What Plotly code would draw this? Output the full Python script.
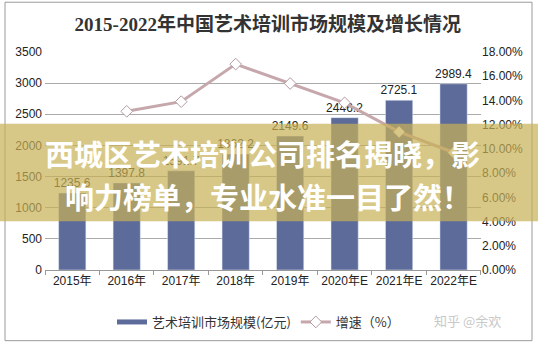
import plotly.graph_objects as go

categories = ["2015年", "2016年", "2017年", "2018年", "2019年", "2020年E", "2021年E", "2022年E"]
market_size = [1235.6, 1397.8, 1591.7, 1862.2, 2149.6, 2446.2, 2725.1, 2989.4]
growth_cats = ["2016年", "2017年", "2018年", "2019年", "2020年E", "2021年E", "2022年E"]
growth_rate = [0.131, 0.139, 0.170, 0.154, 0.138, 0.114, 0.097]
y_left_ticks = [0, 500, 1000, 1500, 2000, 2500, 3000, 3500]
y_right_ticks = [0, 0.02, 0.04, 0.06, 0.08, 0.10, 0.12, 0.14, 0.16, 0.18]

W, H = 538, 348
L, R, T, B = 45, 57, 52, 77
pw, ph = W - L - R, H - T - B

def px(x):
    return (x - L) / pw

def py(y):
    return (H - B - y) / ph

BAR = "#5d6b9a"
LINE = "#c6a7ac"
FONT = "Liberation Sans, Arial, Noto Sans CJK SC, sans-serif"
CJK = "Noto Sans CJK SC, sans-serif"

fig = go.Figure()
fig.add_trace(go.Bar(
    x=categories, y=market_size, marker_color=BAR, width=0.5,
    text=[f"{v:.1f}" for v in market_size], textposition="outside",
    textfont=dict(family=FONT, size=12, color="#222"), cliponaxis=False,
    constraintext="none",
    showlegend=False, name="艺术培训市场规模(亿元)"))
fig.add_trace(go.Scatter(
    x=[None], y=[None], mode="lines", line=dict(color=BAR, width=5),
    name="艺术培训市场规模(亿元)"))
fig.add_trace(go.Scatter(
    x=growth_cats, y=growth_rate, yaxis="y2", mode="lines+markers",
    line=dict(color=LINE, width=3),
    marker=dict(symbol="diamond", size=9, color="white", line=dict(color="#b39a9f", width=1)),
    name="增速（%）", cliponaxis=False))

fig.update_layout(
    width=W, height=H, margin=dict(l=L, r=R, t=T, b=B),
    paper_bgcolor="white", plot_bgcolor="white",
    title=dict(text="<b>2015-2022年中国艺术培训市场规模及增长情况</b>",
               x=px(262), xanchor="center", y=1 - 24 / H, yanchor="middle",
               font=dict(family="Liberation Serif, Noto Sans CJK SC, serif", size=19, color="#333")),
    xaxis=dict(type="category", showline=True, linecolor="#999", ticks="outside",
               tickcolor="#999", ticklen=4, tickson="boundaries", tickangle=0,
               tickfont=dict(family=FONT, size=12, color="#222"), showgrid=False),
    yaxis=dict(range=[0, 3500], tickvals=y_left_ticks, showgrid=True, gridcolor="#aaa",
               gridwidth=1, zeroline=False, tickfont=dict(family=FONT, size=12, color="#222"),
               ticklabelstandoff=2),
    yaxis2=dict(range=[0, 0.18], tickvals=y_right_ticks, tickformat=".2%", overlaying="y",
                side="right", showgrid=False, zeroline=False,
                tickfont=dict(family=FONT, size=12, color="#222")),
    legend=dict(orientation="h", x=px(112), xanchor="left", y=py(322), yanchor="middle",
                font=dict(family=CJK, size=13, color="#333"), bgcolor="rgba(0,0,0,0)"),
    bargap=0.5,
)

shapes = [
    dict(type="rect", xref="paper", yref="paper", x0=px(5), x1=px(532), y0=py(2), y1=py(342),
         line=dict(color="#9a9a9a", width=1), fillcolor="rgba(0,0,0,0)", layer="below"),
    dict(type="rect", xref="paper", yref="paper", x0=px(-2), x1=px(540), y0=py(124), y1=py(222),
         line=dict(width=0), fillcolor="rgba(200,176,85,0.7)", layer="above"),
]
fig.update_layout(shapes=shapes)

fig.add_annotation(xref="paper", yref="paper", x=px(262), y=py(153), showarrow=False,
                   xanchor="center", yanchor="middle",
                   text="<b>西城区艺术培训公司排名揭晓，影</b>",
                   font=dict(family=CJK, size=29, color="white"))
fig.add_annotation(xref="paper", yref="paper", x=px(268), y=py(197), showarrow=False,
                   xanchor="center", yanchor="middle",
                   text="<b>响力榜单，专业水准一目了然！</b>",
                   font=dict(family=CJK, size=29, color="white"))
fig.add_annotation(xref="paper", yref="paper", x=px(467), y=py(322), showarrow=False,
                   xanchor="center", yanchor="middle",
                   text="知乎 @余欢", font=dict(family=CJK, size=13, color="#c8c8c8"))

fig.write_html("out.html")
